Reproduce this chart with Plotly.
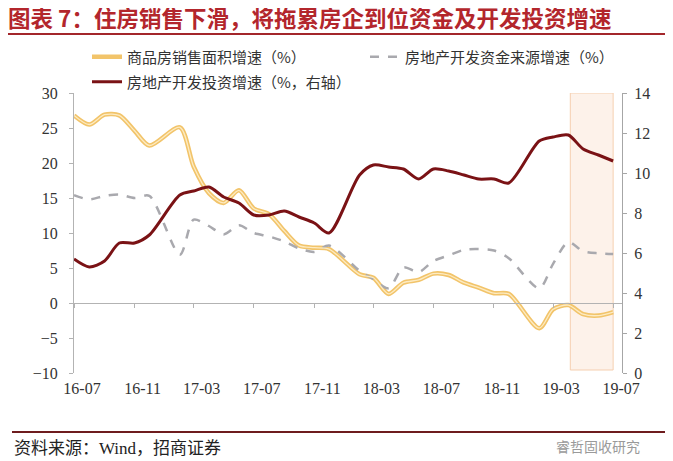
import pandas as pd
import plotly.graph_objects as go

# 月份 2016-07 ~ 2019-07，每年1月无单独数据（1-2月合并）
months = pd.date_range("2016-07-01", "2019-07-01", freq="MS")

sales_area = [26.8, 25.5, 26.9, 26.8, 24.6, 22.5, None, 25.1, 19.5, 15.7, 14.3, 16.1,
              13.5, 12.7, 10.3, 8.2, 7.9, 7.7, None, 4.1, 3.6, 1.3, 2.9, 3.3,
              4.2, 4.0, 2.9, 2.2, 1.4, 1.3, None, -3.6, -0.9, -0.3, -1.6, -1.8, -1.3]
funds = [15.4, 14.8, 15.3, 15.5, 15.0, 15.3, None, 6.9, 11.9, 11.0, 9.8, 11.1,
         10.0, 9.5, 8.8, 7.8, 7.3, 8.2, None, 4.6, 3.4, 2.1, 5.1, 4.4,
         6.0, 6.8, 7.6, 7.7, 7.5, 6.4, None, 2.1, 5.6, 8.7, 7.4, 7.1, 7.0]
invest = [5.7, 5.3, 5.6, 6.5, 6.5, 6.9, None, 8.9, 9.1, 9.3, 8.8, 8.5,
          7.9, 7.9, 8.1, 7.8, 7.5, 7.0, None, 9.9, 10.4, 10.3, 10.2, 9.7,
          10.2, 10.1, 9.9, 9.7, 9.7, 9.5, None, 11.6, 11.8, 11.9, 11.2, 10.9, 10.6]

names = ["商品房销售面积增速（%）", "房地产开发资金来源增速（%）", "房地产开发投资增速（%，右轴）"]
tickdates = months[::4]
ticktext = [d.strftime("%y-%m") for d in tickdates]

title = "图表 7：住房销售下滑，将拖累房企到位资金及开发投资增速"
source = "资料来源：Wind，招商证券"

# 页面 body 有 8px 边距，图整体缩小 8px
OFF = 8
W, H = 673 - OFF, 461 - OFF
L, R, T, B = 66, 51, 85, 88
pw, ph = W - L - R, H - T - B


def px(x):  # 参考图像素 -> paper
    return (x - OFF - L) / pw


def py(y):
    return (H - B - (y - OFF)) / ph


def cx(x):  # 参考图像素 -> container
    return (x - OFF) / W


def cy(y):
    return 1 - (y - OFF) / H


fig = go.Figure()
fig.add_trace(go.Scatter(x=months, y=sales_area, name=names[0], mode="lines", legend="legend",
                         line=dict(color="#f2c46a", width=4.5, shape="spline", smoothing=0.8),
                         connectgaps=True))
fig.add_trace(go.Scatter(x=months, y=funds, name=names[1], mode="lines", legend="legend2",
                         line=dict(color="#a9a9ae", width=2.5, dash="dash", shape="spline", smoothing=0.8),
                         connectgaps=True))
fig.add_trace(go.Scatter(x=months, y=invest, name=names[2], mode="lines", yaxis="y2", legend="legend3",
                         line=dict(color="#7a1215", width=3, shape="spline", smoothing=0.8),
                         connectgaps=True))
# 黄线中间的浅色
fig.add_trace(go.Scatter(x=months, y=sales_area, mode="lines", showlegend=False, hoverinfo="skip",
                         line=dict(color="#fdebc2", width=1.3, shape="spline", smoothing=0.8),
                         connectgaps=True))
# 零轴刻度用
fig.add_trace(go.Scatter(x=[months[0]], y=[None], xaxis="x2", showlegend=False, hoverinfo="skip"))

# 重点区域框
fig.add_shape(type="rect", xref="x", yref="y2", x0="2019-04-05", x1="2019-07-01", y0=0.15, y1=14,
              fillcolor="#fdf2ea", line=dict(color="#f5cfb0", width=1), layer="below")
# 标题下方红线、底部线
fig.add_shape(type="line", xref="paper", yref="paper", x0=px(0), x1=px(680), y0=py(34), y1=py(34),
              line=dict(color="#a3262b", width=2))
fig.add_shape(type="line", xref="paper", yref="paper", x0=px(12), x1=px(680), y0=py(432), y1=py(432),
              line=dict(color="#6e1c1e", width=2))

fig.add_annotation(text=source, xref="paper", yref="paper", x=px(12), y=py(448),
                   xanchor="left", yanchor="middle", showarrow=False,
                   font=dict(family="Liberation Serif, Noto Sans CJK SC", size=17, color="#222"))
fig.add_annotation(text="睿哲固收研究", xref="paper", yref="paper", x=px(642), y=py(446),
                   xanchor="right", yanchor="middle", showarrow=False,
                   font=dict(family="Noto Sans CJK SC", size=14, color="#9a9a9a"))

legfont = dict(family="Noto Sans CJK SC", size=15, color="#333")
tickfont = dict(family="Liberation Serif", size=16, color="#333")


def leg(x, y):
    return dict(orientation="h", xref="container", yref="container", x=cx(x), y=cy(y),
                xanchor="left", yanchor="middle", font=legfont, bgcolor="rgba(0,0,0,0)")


fig.update_layout(
    width=W, height=H,
    margin=dict(l=L, r=R, t=T, b=B, autoexpand=False),
    paper_bgcolor="white", plot_bgcolor="white",
    title=dict(text="<b>" + title + "</b>", xref="container", yref="container",
               x=cx(8), y=cy(19.5), xanchor="left", yanchor="middle",
               font=dict(family="Noto Sans CJK SC", size=22.5, color="#b3262c")),
    legend=leg(87, 57),
    legend2=leg(365, 57),
    legend3=leg(87, 82),
    showlegend=True,
    xaxis=dict(type="date", range=["2016-07-01", "2019-07-19"], tickvals=tickdates, ticktext=ticktext,
               ticks="", showline=False, showgrid=False, zeroline=False, automargin=False,
               tickfont=tickfont, ticklabelshift=8, ticklabelstandoff=4),
    xaxis2=dict(type="date", overlaying="x", matches="x", anchor="free", position=0.25,
                range=["2016-07-01", "2019-07-19"], tickvals=tickdates, showticklabels=False,
                ticks="outside", ticklen=4, tickcolor="#b3b3b3", showline=True, linecolor="#b3b3b3",
                linewidth=1, showgrid=False, zeroline=False, automargin=False),
    yaxis=dict(range=[-10, 30], dtick=5, showgrid=False, zeroline=False, showline=True,
               linecolor="#b3b3b3", ticks="outside", ticklen=4, tickcolor="#b3b3b3", automargin=False,
               tickfont=tickfont, ticklabelstandoff=8),
    yaxis2=dict(range=[0, 14], dtick=2, overlaying="y", side="right", showgrid=False, zeroline=False,
                showline=True, linecolor="#a6a6a6", ticks="outside", ticklen=4, tickcolor="#a6a6a6",
                automargin=False, tickfont=tickfont, ticklabelstandoff=4),
)

fig.write_html("out.html")
